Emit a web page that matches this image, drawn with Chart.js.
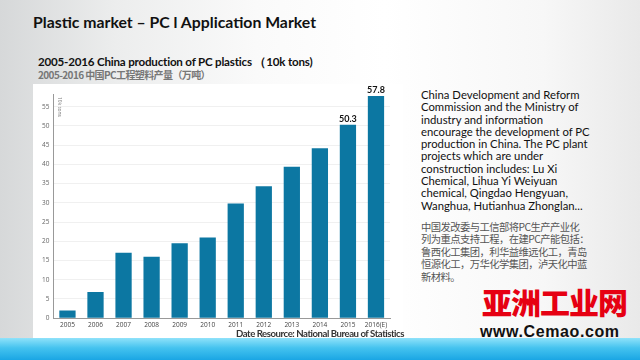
<!DOCTYPE html>
<html><head><meta charset="utf-8">
<script src="https://cdn.jsdelivr.net/npm/chart.js@4/dist/chart.umd.min.js"></script>
<style>
html,body{margin:0;padding:0;}
body{width:640px;height:360px;position:relative;overflow:hidden;font-family:Lato,"Open Sans",sans-serif;
background:linear-gradient(to right,#d6d8d9 0%,#eceded 18%,#fafafa 40%,#ffffff 60%,#f7f7f7 85%,#e9e9e9 100%);}
#title{position:absolute;left:33px;top:12px;font-size:15.8px;font-weight:bold;color:#111;white-space:nowrap;}
#sub1{position:absolute;left:38px;top:55px;font-size:11.6px;font-weight:bold;color:#111;white-space:nowrap;letter-spacing:-0.2px;}
#sub2{position:absolute;left:38px;top:67px;font-size:10px;font-weight:bold;color:#777;white-space:nowrap;font-family:"Noto Sans CJK SC",sans-serif;letter-spacing:-0.6px;}
#panel{position:absolute;left:33px;top:84px;width:370px;height:254px;background:#fff;}
#chartWrap{position:absolute;left:33px;top:84px;width:370px;height:254px;}
#src{position:absolute;left:236px;top:328px;font-size:9.6px;font-weight:bold;color:#333;white-space:nowrap;letter-spacing:-0.45px;}
#rt{position:absolute;left:421px;top:89px;width:175px;font-size:11.3px;line-height:12.3px;color:#111;}
#rc{position:absolute;left:421px;top:221px;font-size:10.3px;line-height:12.4px;color:#555;font-family:"Noto Sans CJK SC",sans-serif;letter-spacing:-0.55px;white-space:nowrap;}
#band{position:absolute;left:0;top:338px;width:640px;height:22px;background:linear-gradient(to bottom,#8fe2fa 0%,#45c3ef 45%,#1aa6e4 100%);}
#wm1{position:absolute;left:482px;top:284px;font-size:30px;font-weight:900;color:#e60012;font-family:"Noto Sans CJK SC",sans-serif;letter-spacing:-1px;line-height:34px;white-space:nowrap;}
#wm2{position:absolute;left:480px;top:323px;font-size:16px;font-weight:bold;color:#111;font-family:"Liberation Sans",sans-serif;white-space:nowrap;letter-spacing:0.6px;}
</style></head>
<body>
<div id="title">Plastic market – PC l Application Market</div>
<div id="sub1">2005-2016 China production of PC plastics （10k tons)</div>
<div id="sub2">2005-2016 中国PC工程塑料产量（万吨）</div>
<div id="panel"></div>
<div id="chartWrap"><canvas id="c" width="370" height="254"></canvas></div>
<div id="src">Date Resource: National Bureau of Statistics</div>
<div id="rt">China Development and Reform Commission and the Ministry of industry and information encourage the development of PC production in China. The PC plant projects which are under construction includes: Lu Xi Chemical, Lihua Yi Weiyuan chemical, Qingdao Hengyuan, Wanghua, Hutianhua Zhonglan...</div>
<div id="rc">中国发改委与工信部将PC生产产业化<br>列为重点支持工程，在建PC产能包括：<br>鲁西化工集团，利华益维远化工，青岛<br>恒源化工，万华化学集团，泸天化中蓝<br>新材料。</div>
<div id="wm1">亚洲工业网</div>
<div id="wm2">www.Cemao.com</div>
<div id="band"></div>
<script>
const categories = ["2005","2006","2007","2008","2009","2010","2011","2012","2013","2014","2015","2016(E)"];
const production = [2.0, 6.8, 17.0, 16.0, 19.5, 21.0, 29.8, 34.3, 39.4, 44.2, 50.3, 57.8];
const labelledYears = ["2015","2016(E)"];
const yUnit = "10k tons";

const labelPlugin = {
  id:'labels',
  afterDatasetsDraw(chart){
    const ctx = chart.ctx;
    const meta = chart.getDatasetMeta(0);
    ctx.save();
    ctx.font = 'bold 9px Lato, sans-serif';
    ctx.fillStyle = '#111';
    ctx.textAlign = 'center';
    ctx.textBaseline = 'bottom';
    meta.data.forEach((bar,i)=>{
      if(labelledYears.includes(categories[i])){
        ctx.fillText(production[i].toFixed(1), bar.x, bar.y - 1);
      }
    });
    const ca = chart.chartArea;
    ctx.translate(ca.left + 6, ca.top + 3);
    ctx.rotate(Math.PI/2);
    ctx.font = '5px "Open Sans", sans-serif';
    ctx.fillStyle = '#777';
    ctx.textAlign = 'left';
    ctx.textBaseline = 'middle';
    ctx.fillText(yUnit, 0, 0);
    ctx.restore();
  }
};

new Chart(document.getElementById('c'), {
  type:'bar',
  data:{labels:categories, datasets:[{data:production, backgroundColor:'#0c77a2', barPercentage:0.58, categoryPercentage:1}]},
  options:{
    responsive:false, animation:false,
    layout:{padding:{left:5,right:13,top:10,bottom:8}},
    plugins:{legend:{display:false}, tooltip:{enabled:false}},
    scales:{
      x:{
        grid:{display:false, tickLength:2},
        border:{color:'#999'},
        ticks:{font:{size:6.5,family:'"Open Sans", sans-serif'}, color:'#444', maxRotation:0, autoSkip:false, padding:1}
      },
      y:{
        min:0, max:58.3,
        afterBuildTicks(scale){ scale.ticks = scale.ticks.filter(t=>t.value%5===0); },
        ticks:{stepSize:5, font:{size:6.5,family:'"Open Sans", sans-serif'}, color:'#666', padding:4},
        grid:{color:'#f0f0f0', drawTicks:false},
        border:{color:'#999'}
      }
    }
  },
  plugins:[labelPlugin]
});
</script>
</body></html>
